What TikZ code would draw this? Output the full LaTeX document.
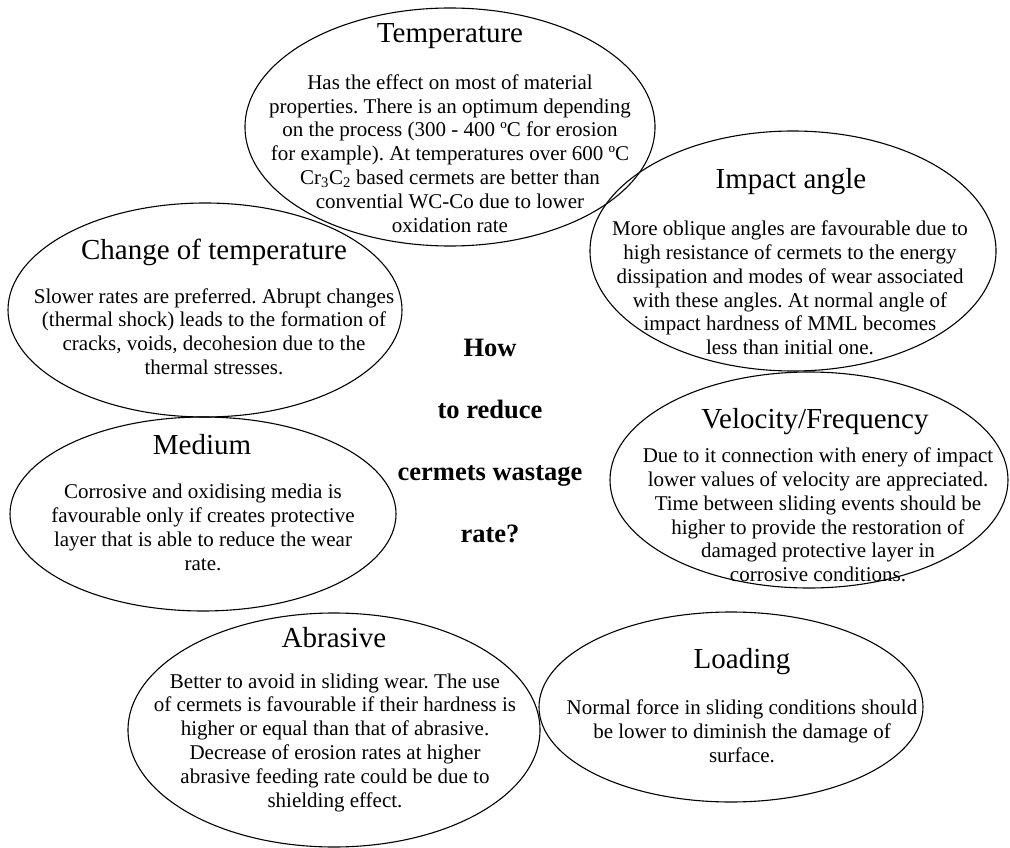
\documentclass[tikz,border=0pt]{standalone}
\usepackage{fontspec}
\setmainfont{Liberation Serif}
\frenchspacing
\usetikzlibrary{shapes.geometric}
\tikzset{blob/.style={ellipse,draw,line width=1.1pt,inner sep=0pt},
         ttl/.style={font=\fontsize{29}{34}\selectfont,inner sep=0pt},
         txt/.style={font=\fontsize{21}{23.8}\selectfont,align=center,inner sep=0pt}}

\begin{document}
\begin{tikzpicture}[x=1pt,y=-1pt]
  \useasboundingbox (0,0) rectangle (1010,848);
  % the seven bubbles
  \node[blob,minimum width=410,minimum height=238] (temp) at (450,127) {};
  \node[blob,minimum width=406,minimum height=240] (impact) at (793,251) {};
  \node[blob,minimum width=394,minimum height=214] (change) at (205,310) {};
  \node[blob,minimum width=386,minimum height=194] (medium) at (203,514) {};
  \node[blob,minimum width=398,minimum height=216] (velo) at (809,480) {};
  \node[blob,minimum width=384,minimum height=190] (load) at (731,707) {};
  \node[blob,minimum width=412,minimum height=234] (abras) at (334,730) {};
  % titles
  \node[ttl] (temptitle) at (450,36) {Temperature};
  \node[ttl] (impacttitle) at (791,182) {Impact angle};
  \node[ttl] (changetitle) at (214,252) {Change of temperature};
  \node[ttl] (mediumtitle) at (202,445) {Medium};
  \node[ttl] (velotitle) at (815,422) {Velocity/Frequency};
  \node[ttl] (loadtitle) at (742,662) {Loading};
  \node[ttl] (abrastitle) at (334,638) {Abrasive};
  % texts
  \node[txt] (temptext) at (450,153.5) {Has the effect on most of material\\
    properties. There is an optimum depending\\
    on the process (300 - 400 ºC for erosion\\
    for example). At temperatures over 600 ºC\\
    Cr\textsubscript{3}C\textsubscript{2} based cermets are better than\\
    convential WC-Co due to lower\\ oxidation rate};
  \node[txt] (impacttext) at (790,288) {More oblique angles are favourable due to\\
    high resistance of cermets to the energy\\
    dissipation and modes of wear associated\\
    with these angles. At normal angle of\\
    impact hardness of MML becomes\\ less than initial one.};
  \node[txt] (changetext) at (214,331.5) {Slower rates are preferred. Abrupt changes\\
    (thermal shock) leads to the formation of\\
    cracks, voids, decohesion due to the\\ thermal stresses.};
  \node[txt] (mediumtext) at (203,527.5) {Corrosive and oxidising media is\\
    favourable only if creates protective\\
    layer that is able to reduce the wear\\ rate.};
  \node[txt] (velotext) at (818,515) {Due to it connection with enery of impact\\
    lower values of velocity are appreciated.\\
    Time between sliding events should be\\
    higher to provide the restoration of\\
    damaged protective layer in\\ corrosive conditions.};
  \node[txt] (loadtext) at (742,731) {Normal force in sliding conditions should\\
    be lower to diminish the damage of\\ surface.};
  \node[txt] (abrastext) at (335,742.5) {Better to avoid in sliding wear. The use\\
    of cermets is favourable if their hardness is\\
    higher or equal than that of abrasive.\\
    Decrease of erosion rates at higher\\
    abrasive feeding rate could be due to\\ shielding effect.};
  % question in the middle
  \node[align=center,inner sep=0pt,font=\fontsize{26.5}{62}\selectfont\bfseries]
    (question) at (490,441.5) {How\\ to reduce\\ cermets wastage\\ rate?};
\end{tikzpicture}
\end{document}
